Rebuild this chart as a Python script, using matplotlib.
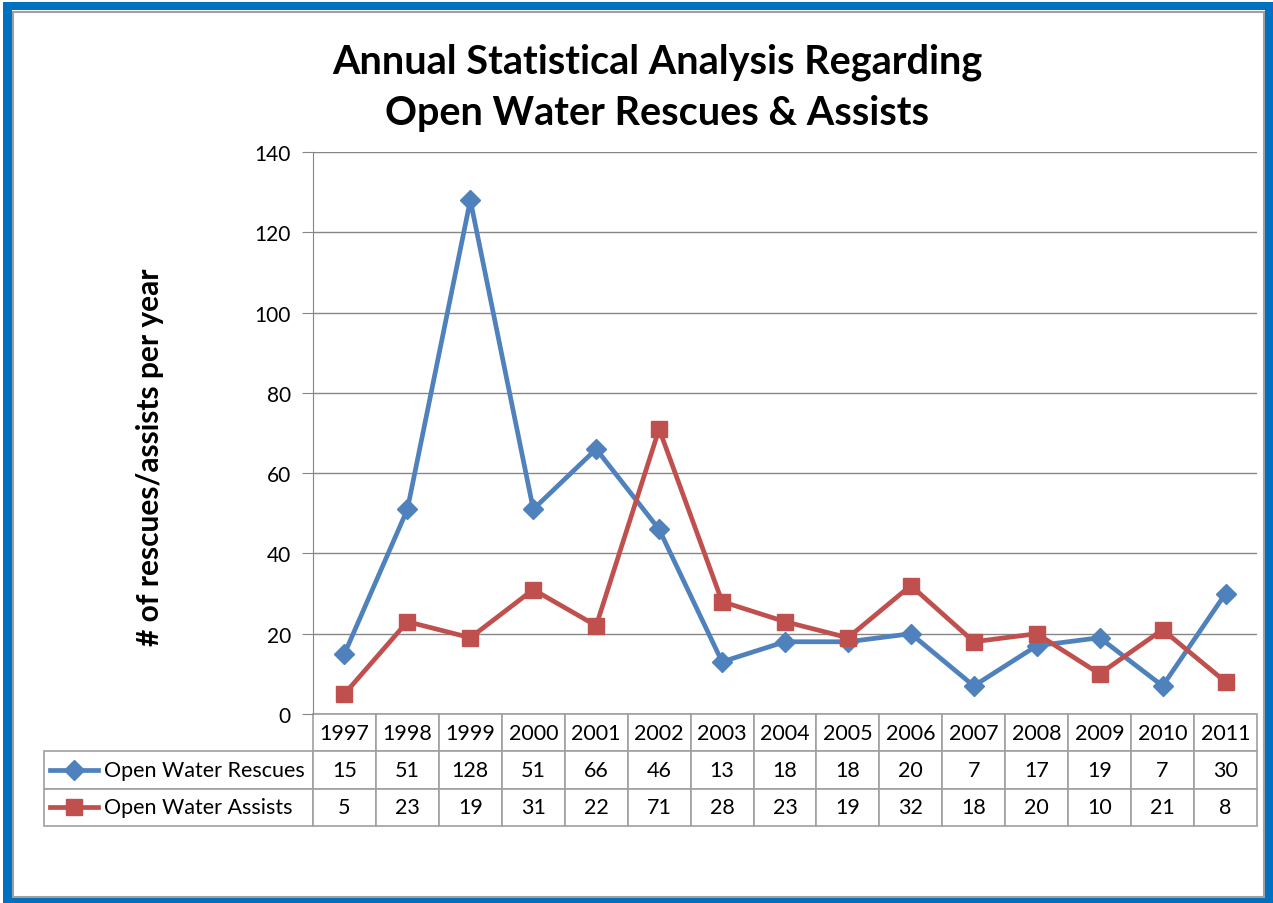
import matplotlib.pyplot as plt
from matplotlib.patches import Rectangle
from matplotlib.lines import Line2D

plt.rcParams['font.family'] = ['Lato', 'DejaVu Sans']

years = ['1997', '1998', '1999', '2000', '2001', '2002', '2003', '2004',
         '2005', '2006', '2007', '2008', '2009', '2010', '2011']
rescues = [15, 51, 128, 51, 66, 46, 13, 18, 18, 20, 7, 17, 19, 7, 30]
assists = [5, 23, 19, 31, 22, 71, 28, 23, 19, 32, 18, 20, 10, 21, 8]
series_names = ['Open Water Rescues', 'Open Water Assists']
blue = '#4F81BD'
red = '#C0504D'

W, H = 1273, 904
fig = plt.figure(figsize=(W / 100, H / 100), dpi=100)

def fx(px):
    return px / W

def fy(py):
    return 1 - py / H

# frame around the chart
fig.patches.append(Rectangle((fx(3), 0), 1 - fx(3), fy(3), transform=fig.transFigure,
                             facecolor='#0070C0', edgecolor='none', zorder=-3))
fig.patches.append(Rectangle((fx(12), fy(899)), fx(1265 - 12), (899 - 11) / H,
                             transform=fig.transFigure, facecolor='white',
                             edgecolor='none', zorder=-2))
fig.patches.append(Rectangle((fx(13.5), fy(897.5)), fx(1263.5 - 13.5), (897.5 - 12.5) / H,
                             transform=fig.transFigure, facecolor='none',
                             edgecolor='#A0A0A0', lw=1.5, zorder=-1))

left, right, top, bottom = 313, 1257, 153, 715
ax = fig.add_axes([fx(left), fy(bottom), fx(right - left), (bottom - top) / H])
ax.patch.set_alpha(0)
x = list(range(len(years)))
ax.plot(x, rescues, color=blue, lw=3.4, marker='D', markersize=10, clip_on=False, zorder=3)
ax.plot(x, assists, color=red, lw=3.4, marker='s', markersize=11, clip_on=False, zorder=3)
ax.set_xlim(-0.5, len(years) - 0.5)
ax.set_ylim(0, 140)
ax.set_yticks(range(0, 141, 20))
ax.set_xticks([])
ax.grid(axis='y', color='#868686', lw=1)
ax.set_axisbelow(True)
for s in ['top', 'right', 'bottom']:
    ax.spines[s].set_visible(False)
ax.spines['left'].set_color('#868686')
ax.tick_params(axis='y', length=8, color='#868686', labelsize=15, pad=8)

fig.text(fx(657), fy(62), 'Annual Statistical Analysis Regarding', ha='center', va='center',
         fontsize=28.5, fontweight='bold')
fig.text(fx(657), fy(113), 'Open Water Rescues & Assists', ha='center', va='center',
         fontsize=28.5, fontweight='bold')
fig.text(fx(150), fy(457), '# of rescues/assists per year', rotation=90, ha='center',
         va='center', fontsize=21.5, fontweight='bold')

# data table under the plot
tab_left, row_h = 44, 37.3
colw = (right - left) / len(years)
cell_text = [[''] + [str(v) for v in rescues], [''] + [str(v) for v in assists]]
tab = ax.table(cellText=cell_text, colLabels=[''] + years, cellLoc='center',
               colWidths=[(left - tab_left)] + [colw] * len(years),
               bbox=[(tab_left - left) / (right - left), -3 * row_h / (bottom - top),
                     (right - tab_left) / (right - left), 3 * row_h / (bottom - top)])
tab.auto_set_font_size(False)
for (r, c), cell in tab.get_celld().items():
    cell.set_edgecolor('#A0A0A0')
    cell.set_linewidth(1.2)
    cell.get_text().set_fontsize(15.5)
tab[0, 0].visible_edges = ''

for i, (name, col, mk, ms) in enumerate(zip(series_names, [blue, red], ['D', 's'], [10, 11])):
    yc = fy(bottom + row_h * (1.5 + i))
    fig.add_artist(Line2D([fx(50), fx(98)], [yc, yc], color=col, lw=3.4))
    fig.add_artist(Line2D([fx(74)], [yc], color=col, marker=mk, markersize=ms))
    fig.text(fx(104), yc, name, ha='left', va='center', fontsize=15.5)

fig.savefig('out.png', dpi=100)
